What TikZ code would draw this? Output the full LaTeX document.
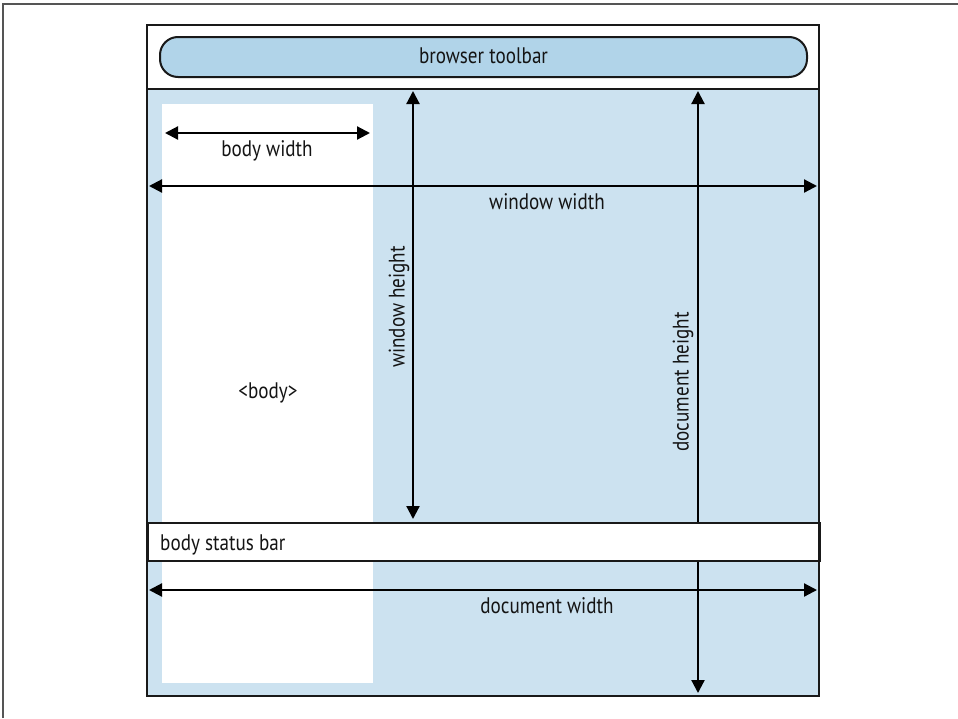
\documentclass[tikz,border=0pt]{standalone}
\usepackage{fontspec}
\setmainfont[FakeStretch=0.85]{PT Sans}
\usetikzlibrary{arrows.meta}
\definecolor{pillblue}{HTML}{B1D4E9}
\definecolor{areablue}{HTML}{CCE2F0}
\definecolor{framegrey}{HTML}{555555}
\tikzset{
  dimarrow/.style={line width=2.2pt,{Triangle[length=13pt,width=13pt]}-{Triangle[length=13pt,width=13pt]}},
  lbl/.style={font=\fontsize{22.5}{24}\selectfont, inner sep=0pt, text=black!92},
  boxline/.style={line width=2.4pt, draw=black!90},
}
\begin{document}
\begin{tikzpicture}[x=1pt,y=-1pt]
\useasboundingbox (0,0) rectangle (958,718);
% outer grey frame
\draw[framegrey, line width=1.6pt] (3,718) -- (3,4) -- (958,4);
% blue area
\fill[areablue] (147,89) rectangle (819,696);
% white body
\fill[white] (162,104) rectangle (373,683);
% coordinates for arrows
\coordinate (bwL) at (165,133);
\coordinate (bwR) at (370,133);
\coordinate (wwL) at (149,186);
\coordinate (wwR) at (817,186);
\coordinate (whT) at (413,91);
\coordinate (whB) at (413,519);
\coordinate (dhT) at (698,91);
\coordinate (dhB) at (698,693);
\coordinate (dwL) at (149,590);
\coordinate (dwR) at (817,590);
% arrows
\draw[dimarrow] (bwL) -- (bwR);
\draw[dimarrow] (wwL) -- (wwR);
\draw[dimarrow] (whT) -- (whB);
\draw[dimarrow] (dhT) -- (dhB);
\draw[dimarrow] (dwL) -- (dwR);
% status bar
\node[boxline, fill=white, minimum width=672pt, minimum height=38pt, inner sep=0pt, anchor=north west] (status) at (147,522) {};
\node[lbl, anchor=west] (statuslbl) at (160,545) {body status bar};
% toolbar separator and main box
\draw[boxline] (147,89) -- (819,89);
\draw[boxline] (147,25) rectangle (819,696);
% toolbar pill
\node[draw=black!90, line width=2pt, fill=pillblue, rounded corners=18pt, minimum width=647pt, minimum height=40pt, inner sep=0pt] (toolbar) at (483.5,57) {};
\node[lbl] (toolbarlbl) at (483.5,56) {browser toolbar};
% labels
\node[lbl] (bwlbl) at (267,151) {body width};
\node[lbl] (wwlbl) at (547,202) {window width};
\node[lbl, rotate=90] (whlbl) at (399,307) {window height};
\node[lbl, rotate=90] (dhlbl) at (683,382) {document height};
\node[lbl] (dwlbl) at (547,606) {document width};
\node[lbl] (bodylbl) at (268,393) {<body>};
\end{tikzpicture}
\end{document}
